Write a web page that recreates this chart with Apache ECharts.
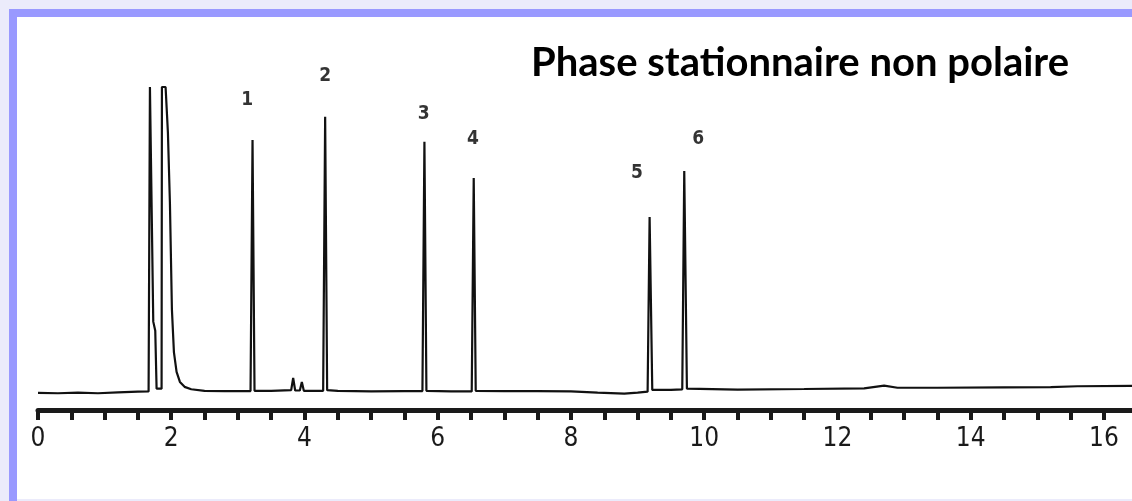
<!DOCTYPE html>
<html>
<head>
<meta charset="utf-8">
<script src="https://cdn.jsdelivr.net/npm/echarts@6/dist/echarts.min.js"></script>
<style>
  html, body { margin: 0; padding: 0; background: #ebebfb; }
  #chart { width: 1132px; height: 501px; }
</style>
</head>
<body>
<div id="chart"></div>
<script>
// Chromatogram trace (retention time in min, detector signal in arbitrary units)
const traceTime = [
  0.0, 0.3, 0.6, 0.9, 1.2, 1.5, 1.66, 1.68, 1.71, 1.73, 1.76, 1.78, 1.855, 1.86, 1.915,
  1.95, 1.98, 2.01, 2.04, 2.08, 2.13, 2.2, 2.3, 2.5, 2.8, 3.19, 3.22, 3.25, 3.5, 3.8,
  3.83, 3.86, 3.93, 3.96, 3.99, 4.28, 4.31, 4.34, 4.5, 5.0, 5.5, 5.77, 5.80, 5.83, 6.2,
  6.51, 6.54, 6.57, 7.0, 7.5, 8.0, 8.4, 8.8, 9.0, 9.15, 9.18, 9.22, 9.5, 9.67, 9.70,
  9.74, 10.5, 11.5, 12.4, 12.7, 12.9, 13.5, 14.5, 15.2, 15.6, 16.5
];
const traceSignal = [
  -0.4, -0.5, -0.3, -0.5, -0.2, 0, 0.1, 100, 100, 23, 20, 1, 1, 100, 100,
  85, 62, 27, 13, 6.5, 3.2, 1.6, 0.8, 0.3, 0.2, 0.2, 82.6, 0.3, 0.3, 0.5,
  4.5, 0.4, 0.4, 3.2, 0.3, 0.3, 90.2, 0.5, 0.3, 0.1, 0.2, 0.2, 82.0, 0.3, 0.1,
  0.1, 70.1, 0.3, 0.2, 0.2, 0.1, -0.3, -0.6, -0.3, 0, 57.3, 0.6, 0.6, 0.8, 72.4,
  1.0, 0.7, 0.9, 1.1, 2.0, 1.3, 1.3, 1.4, 1.5, 1.8, 1.9
];

// Peak number labels and their anchor positions
const peakNames = ['1', '2', '3', '4', '5', '6'];
const labelTime = [3.14, 4.31, 5.79, 6.53, 8.99, 9.91];
const labelSignal = [95.7, 103.6, 91.1, 82.9, 71.8, 82.9];

// Axis ticks
const xTickLabels = [0, 2, 4, 6, 8, 10, 12, 14, 16];

const titleText = 'Phase stationnaire non polaire';

const chart = echarts.init(document.getElementById('chart'), null, { renderer: 'canvas' });

const option = {
  animation: false,
  backgroundColor: '#ebebfb',
  title: {
    text: titleText,
    left: 526,
    top: 38,
    textStyle: {
      fontFamily: 'Lato, "Open Sans", sans-serif',
      fontWeight: 'bold',
      fontSize: 40,
      color: '#000'
    }
  },
  graphic: [
    { type: 'rect', z: -10, shape: { x: 17, y: 17, width: 1115, height: 482 }, style: { fill: '#ffffff' } },
    { type: 'rect', z: -9, shape: { x: 9, y: 9, width: 1123, height: 8 }, style: { fill: '#9999ff' } },
    { type: 'rect', z: -9, shape: { x: 9, y: 9, width: 8, height: 492 }, style: { fill: '#9999ff' } }
  ],
  grid: { left: 38, width: 1099.3, top: 41.3, bottom: 91, outerBoundsMode: 'none', containLabel: false },
  xAxis: {
    type: 'value',
    min: 0,
    max: 16.5,
    interval: 0.5,
    axisLine: { show: true, onZero: false, lineStyle: { color: '#1a1a1a', width: 5 } },
    axisTick: { show: true, length: 10, lineStyle: { color: '#1a1a1a', width: 4 } },
    splitLine: { show: false },
    axisLabel: {
      margin: 16,
      fontFamily: '"Liberation Sans Narrow", "DejaVu Sans Condensed", sans-serif',
      fontSize: 26,
      color: '#1a1a1a',
      formatter: function (v) {
        return xTickLabels.indexOf(v) >= 0 ? String(v) : '';
      }
    }
  },
  yAxis: {
    type: 'value',
    min: -6,
    max: 115,
    show: false,
    splitLine: { show: false }
  },
  series: [
    {
      type: 'line',
      data: traceTime.map((t, i) => [t, traceSignal[i]]),
      showSymbol: false,
      symbol: 'none',
      lineStyle: { color: '#111', width: 2.2 },
      z: 3
    },
    {
      type: 'scatter',
      clip: false,
      symbolSize: 0,
      data: labelTime.map((t, i) => ({ value: [t, labelSignal[i]], name: peakNames[i] })),
      label: {
        show: true,
        position: 'inside',
        formatter: '{b}',
        fontFamily: '"Liberation Sans Narrow", "DejaVu Sans Condensed", sans-serif',
        fontWeight: 'bold',
        fontSize: 19,
        color: '#000'
      }
    }
  ]
};

chart.setOption(option);
</script>
</body>
</html>
